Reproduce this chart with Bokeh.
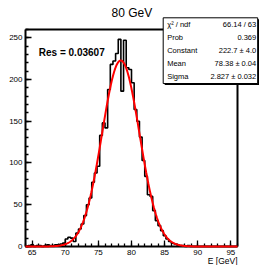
import numpy as np
from bokeh.plotting import figure
from bokeh.models import (Range1d, SingleIntervalTicker, LinearAxis, FixedTicker,
                          Label, BoxAnnotation)
from bokeh.embed import file_html
from bokeh.resources import INLINE

# ---------------- data ----------------
title_text = "80 GeV"
x_label = "E [GeV]"
res_text = "Res = 0.03607"

hist_lo = 64.0
hist_hi = 96.0
n_bins = 80
y_max = 260.4

counts = [0, 1, 2, 0, 1, 1, 0, 1, 2, 1,
          1, 2, 2, 3, 4, 9, 11, 10, 6, 16,
          21, 27, 37, 50, 58, 77, 88, 96, 133, 148,
          142, 188, 218, 222, 231, 248, 186, 247, 214, 212,
          196, 164, 150, 131, 103, 84, 62, 60, 43, 31,
          25, 19, 13, 9, 6, 4, 3, 2, 1, 1,
          0, 1, 0, 0, 0, 0, 0, 0, 0, 0,
          0, 0, 0, 0, 0, 0, 0, 0, 0, 0]

fit_constant = 222.7
fit_mean = 78.38
fit_sigma = 2.827

stats_names = ["\u03c7\u00b2 / ndf", "Prob", "Constant", "Mean", "Sigma"]
stats_values = ["66.14 / 63", "0.369", "222.7 \u00b1 4.0", "78.38 \u00b1 0.04", "2.827 \u00b1 0.032"]

FONT = "Liberation Sans"

# ---------------- geometry (pixels on the canvas) ----------------
W, H = 259, 265
FL, FR, FT, FB = 25.0, 237.0, 28.5, 246.0   # visible histogram frame
xpp = (hist_hi - hist_lo) / (FR - FL)        # data units per pixel
ypp = y_max / (FB - FT)
x_start = hist_lo - FL * xpp
x_end = hist_hi + (W - FR) * xpp
y_start = -(H - FB) * ypp
y_end = y_max + FT * ypp

# ---------------- figure ----------------
p = figure(width=W, height=H, title=None,
           x_range=Range1d(x_start, x_end), y_range=Range1d(y_start, y_end),
           output_backend="svg", toolbar_location=None,
           x_axis_type=None, y_axis_type=None,
           min_border_left=0, min_border_right=0,
           min_border_top=0, min_border_bottom=0)
p.xgrid.grid_line_color = None
p.ygrid.grid_line_color = None
p.outline_line_color = None
p.background_fill_color = "white"
p.border_fill_color = "white"

# histogram
edges = np.linspace(hist_lo, hist_hi, n_bins + 1)
step_y = list(counts) + [counts[-1]]
p.step(edges, step_y, mode="after", line_color="black", line_width=1.6)

# fit curve
fx = np.linspace(hist_lo, hist_hi, 500)
fy = fit_constant * np.exp(-0.5 * ((fx - fit_mean) / fit_sigma) ** 2)
p.line(fx, fy, line_color="#ff0000", line_width=2, level="overlay")


def style_axis(ax):
    ax.axis_line_width = 2
    ax.axis_line_color = "black"
    ax.major_tick_in = 6
    ax.major_tick_out = 0
    ax.minor_tick_in = 3
    ax.minor_tick_out = 0
    ax.major_tick_line_width = 1.3
    ax.minor_tick_line_width = 1.3
    ax.major_label_text_font = FONT
    ax.major_label_text_font_size = "8px"
    ax.major_label_text_color = "black"


# x axis (bottom of the histogram frame)
xa = LinearAxis(fixed_location=0, bounds=(hist_lo, hist_hi),
                ticker=SingleIntervalTicker(interval=5, num_minor_ticks=5))
style_axis(xa)
xa.major_label_standoff = 3
p.add_layout(xa, "below")

# y axis (left of the histogram frame)
ya = LinearAxis(fixed_location=hist_lo, bounds=(0, y_max),
                ticker=SingleIntervalTicker(interval=50, num_minor_ticks=5))
style_axis(ya)
ya.major_label_standoff = 3
p.add_layout(ya, "left")

# frame lines top / right
top_ax = LinearAxis(fixed_location=y_max, bounds=(hist_lo, hist_hi),
                    ticker=FixedTicker(ticks=[]), axis_line_width=2,
                    major_tick_in=0, major_tick_out=0, minor_tick_in=0, minor_tick_out=0,
                    major_label_text_font_size="0px")
p.add_layout(top_ax, "above")
right_ax = LinearAxis(fixed_location=hist_hi, bounds=(0, y_max),
                      ticker=FixedTicker(ticks=[]), axis_line_width=2,
                      major_tick_in=0, major_tick_out=0, minor_tick_in=0, minor_tick_out=0,
                      major_label_text_font_size="0px")
p.add_layout(right_ax, "right")

# x axis title (right aligned at frame end)
p.add_layout(Label(x=FR, y=260.5, x_units="canvas", y_units="canvas", text=x_label,
                   text_align="right", text_baseline="middle",
                   text_font=FONT, text_font_size="8.5px", text_color="black"))

# title
p.add_layout(Label(x=131.3, y=12.5, x_units="canvas", y_units="canvas", text=title_text,
                   text_align="center", text_baseline="middle",
                   text_font=FONT, text_font_size="12px", text_color="black"))

# resolution text
p.add_layout(Label(x=38.3, y=52.3, x_units="canvas", y_units="canvas", text=res_text,
                   text_align="left", text_baseline="middle",
                   text_font=FONT, text_font_size="10px", text_font_style="bold",
                   text_color="black"))

# stats box
bl, br, bt, bb = 162.7, 257.2, 17.3, 83.0
p.add_layout(BoxAnnotation(left=bl + 1.5, right=br + 1.5, top=bt + 1.5, bottom=bb + 1.5,
                           left_units="canvas", right_units="canvas",
                           top_units="canvas", bottom_units="canvas",
                           fill_color="black", fill_alpha=1, line_color=None))
p.add_layout(BoxAnnotation(left=bl, right=br, top=bt, bottom=bb,
                           left_units="canvas", right_units="canvas",
                           top_units="canvas", bottom_units="canvas",
                           fill_color="white", fill_alpha=1,
                           line_color="black", line_width=1, line_alpha=1))
row_h = (bb - bt) / len(stats_names)
for i, (nm, vl) in enumerate(zip(stats_names, stats_values)):
    yy = bt + row_h * (i + 0.5)
    p.add_layout(Label(x=bl + 4, y=yy, x_units="canvas", y_units="canvas", text=nm,
                       text_align="left", text_baseline="middle",
                       text_font=FONT, text_font_size="7.5px", text_color="black"))
    p.add_layout(Label(x=br - 1.5, y=yy, x_units="canvas", y_units="canvas", text=vl,
                       text_align="right", text_baseline="middle",
                       text_font=FONT, text_font_size="7.5px", text_color="black"))

open("out.html", "w").write(file_html(p, INLINE))
